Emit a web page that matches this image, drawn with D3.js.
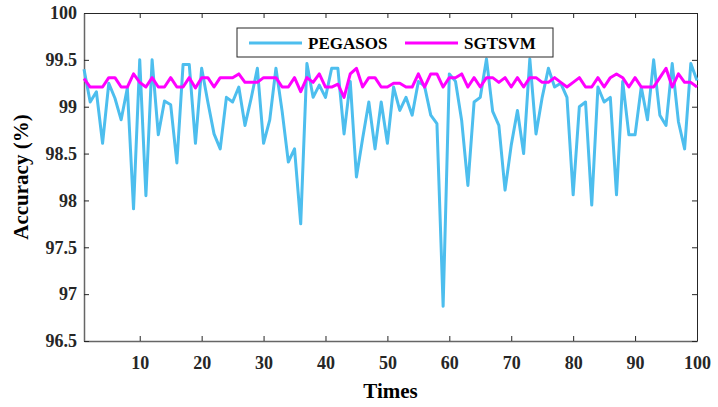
<!DOCTYPE html>
<html>
<head>
<meta charset="utf-8">
<script src="https://cdn.jsdelivr.net/npm/d3@7"></script>
<style>
  body { margin: 0; background: #fff; }
  text { font-family: "Liberation Serif", "Times New Roman", serif; font-weight: bold; }
</style>
</head>
<body>
<div id="chart"></div>
<script>
var width = 718;
var height = 407;
var margin = { top: 13, right: 21, bottom: 66, left: 84 };

// accuracy per run
var pegasos = [
    99.40, 99.05, 99.16, 98.61, 99.25, 99.09, 98.86, 99.20, 97.91, 99.50,
    98.05, 99.50, 98.70, 99.06, 99.02, 98.40, 99.45, 99.45, 98.61, 99.41,
    99.05, 98.71, 98.55, 99.10, 99.05, 99.21, 98.80, 99.09, 99.41, 98.61,
    98.86, 99.41, 98.95, 98.41, 98.55, 97.75, 99.46, 99.10, 99.23, 99.10,
    99.41, 99.41, 98.71, 99.27, 98.25, 98.66, 99.05, 98.55, 99.05, 98.61,
    99.21, 98.96, 99.10, 98.91, 99.27, 99.22, 98.91, 98.82, 96.87, 99.35,
    99.27, 98.85, 98.16, 99.05, 99.10, 99.51, 98.95, 98.80, 98.11, 98.59,
    98.96, 98.50, 99.51, 98.71, 99.10, 99.41, 99.21, 99.25, 99.10, 98.06,
    99.00, 99.05, 97.95, 99.21, 99.05, 99.10, 98.06, 99.27, 98.70, 98.70,
    99.21, 98.86, 99.50, 98.91, 98.80, 99.46, 98.84, 98.55, 99.46, 99.28
];
var sgtsvm = [
    99.30, 99.21, 99.21, 99.21, 99.31, 99.31, 99.21, 99.21, 99.35, 99.26,
    99.21, 99.31, 99.21, 99.21, 99.31, 99.21, 99.21, 99.31, 99.20, 99.31,
    99.31, 99.21, 99.31, 99.31, 99.31, 99.35, 99.26, 99.26, 99.26, 99.31,
    99.31, 99.31, 99.21, 99.21, 99.31, 99.16, 99.31, 99.26, 99.35, 99.21,
    99.21, 99.24, 99.10, 99.35, 99.41, 99.21, 99.31, 99.31, 99.21, 99.21,
    99.25, 99.25, 99.21, 99.21, 99.35, 99.21, 99.35, 99.35, 99.21, 99.31,
    99.31, 99.35, 99.21, 99.31, 99.21, 99.31, 99.31, 99.26, 99.31, 99.21,
    99.31, 99.21, 99.31, 99.31, 99.26, 99.26, 99.31, 99.26, 99.21, 99.26,
    99.31, 99.21, 99.21, 99.31, 99.21, 99.31, 99.35, 99.31, 99.21, 99.31,
    99.21, 99.21, 99.21, 99.31, 99.41, 99.21, 99.35, 99.26, 99.26, 99.21
];
var xTicks = [10, 20, 30, 40, 50, 60, 70, 80, 90, 100];
var yTicks = [96.5, 97, 97.5, 98, 98.5, 99, 99.5, 100];
var seriesNames = ["PEGASOS", "SGTSVM"];
var seriesColors = ["#4DBEEE", "#FF00FF"];

var svg = d3.select("#chart")
    .append("svg")
    .attr("width", width)
    .attr("height", height);

var w = width - margin.left - margin.right;
var h = height - margin.top - margin.bottom;

var g = svg.append("g")
    .attr("transform", "translate(" + margin.left + "," + margin.top + ")");

var x = d3.scaleLinear().domain([1, 100]).range([0, w]);
var y = d3.scaleLinear().domain([96.5, 100]).range([h, 0]);

/*
    box axes, ticks pointing inward on all four sides
*/
var axisColor = "#262626";

var axisBottomG = g.append("g")
    .attr("transform", "translate(0," + h + ")")
    .call(d3.axisBottom(x).tickValues(xTicks).tickSizeInner(-5).tickSizeOuter(0).tickPadding(15));
var axisTopG = g.append("g")
    .call(d3.axisTop(x).tickValues(xTicks).tickSizeInner(-5).tickSizeOuter(0).tickFormat(""));
var axisLeftG = g.append("g")
    .call(d3.axisLeft(y).tickValues(yTicks).tickFormat(d3.format("")).tickSizeInner(-5).tickSizeOuter(0).tickPadding(7));
var axisRightG = g.append("g")
    .attr("transform", "translate(" + w + ",0)")
    .call(d3.axisRight(y).tickValues(yTicks).tickSizeInner(-5).tickSizeOuter(0).tickFormat(""));

[axisBottomG, axisTopG, axisLeftG, axisRightG].forEach(function (a) {
    a.select(".domain").attr("stroke", axisColor).attr("stroke-width", 1);
    a.selectAll(".tick line").attr("stroke", axisColor);
    a.selectAll("text").attr("fill", axisColor).style("font-size", "18px");
});
// left and bottom spines look a bit heavier and greyer
axisBottomG.select(".domain").attr("stroke", "#666").attr("stroke-width", 1.5);
axisLeftG.select(".domain").attr("stroke", "#666").attr("stroke-width", 1.5);

/*
    the two series
*/
var line = d3.line()
    .x(function (d, i) { return x(i + 1); })
    .y(function (d) { return y(d); });

[pegasos, sgtsvm].forEach(function (s, k) {
    g.append("path")
        .datum(s)
        .attr("fill", "none")
        .attr("stroke", seriesColors[k])
        .attr("stroke-width", 3)
        .attr("stroke-linejoin", "round")
        .attr("d", line);
});

/*
    axis titles
*/
svg.append("text")
    .attr("x", margin.left + w / 2)
    .attr("y", 398)
    .attr("text-anchor", "middle")
    .style("font-size", "21px")
    .attr("fill", "#000")
    .text("Times");

svg.append("text")
    .attr("transform", "translate(28," + (margin.top + h / 2) + ") rotate(-90)")
    .attr("text-anchor", "middle")
    .style("font-size", "21px")
    .attr("fill", "#000")
    .text("Accuracy (%)");

/*
    legend
*/
var legend = svg.append("g").attr("transform", "translate(237,28)");
legend.append("rect")
    .attr("width", 316)
    .attr("height", 29)
    .attr("fill", "#fff")
    .attr("stroke", axisColor)
    .attr("stroke-width", 1);

var legendX = [12, 168];
seriesNames.forEach(function (name, k) {
    legend.append("line")
        .attr("x1", legendX[k])
        .attr("x2", legendX[k] + 53)
        .attr("y1", 15)
        .attr("y2", 15)
        .attr("stroke", seriesColors[k])
        .attr("stroke-width", 3);
    legend.append("text")
        .attr("x", legendX[k] + 59)
        .attr("y", 21)
        .style("font-size", "17px")
        .attr("fill", "#000")
        .text(name);
});
</script>
</body>
</html>
